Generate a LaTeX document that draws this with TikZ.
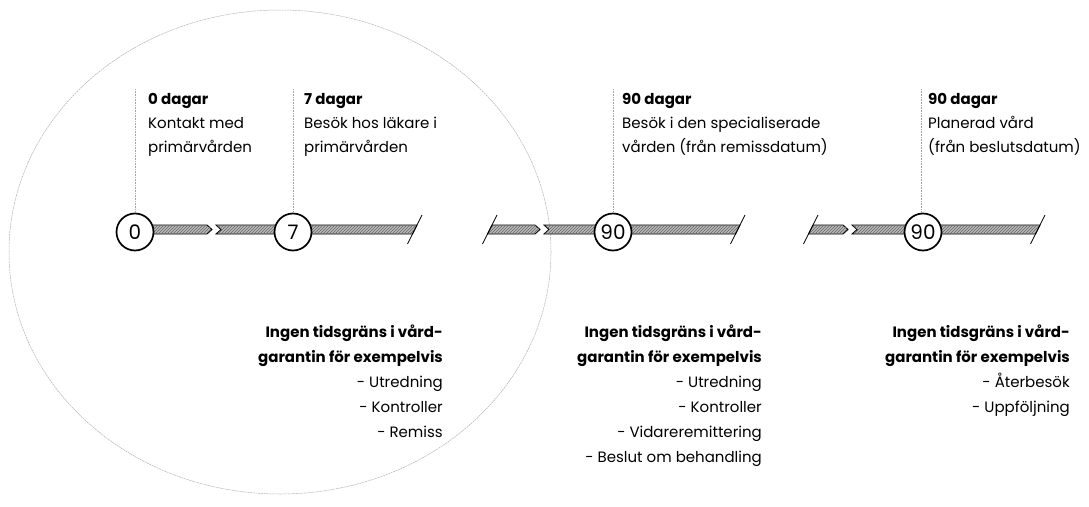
\documentclass[tikz,border=0pt]{standalone}
\usepackage{fontspec}
\setmainfont{Poppins}
\usetikzlibrary{patterns}
\newcommand\chevbar[2]{\draw[bar] (#1,225) -- ({#2-5},225) -- (#2,229.5) -- ({#2-5},234) -- (#1,234) -- cycle;}
\newcommand\notchbar[2]{\draw[bar] (#1,225) -- (#2,225) -- (#2,234) -- (#1,234) -- ({#1+5},229.5) -- cycle;}
\newcommand\slantend[2]{\draw[bar] (#1,225) -- (#2,225) -- ({#2-4.5},234) -- (#1,234) -- cycle;
  \draw[line width=0.8pt] ({#2+5},215) -- ({#2-9.5},244);}
\newcommand\slantstart[2]{\draw[bar] (#1,225) -- ({#2-5},225) -- (#2,229.5) -- ({#2-5},234) -- ({#1-4.5},234) -- cycle;
  \draw[line width=0.8pt] ({#1+5},215) -- ({#1-9.5},244);}
\tikzset{
  daynode/.style={circle, draw, line width=1.7pt, fill=white, minimum size=37pt, inner sep=0pt, font=\fontsize{20}{20}\selectfont},
  bar/.style={draw=black, line width=0.9pt, fill=gray!55, postaction={pattern=north east lines, pattern color=black!60}},
  tick/.style={gray!70, line width=0.6pt, dash pattern=on 1pt off 0.6pt},
  toptext/.style={anchor=north west, align=left, inner sep=0pt, font=\fontsize{15}{24}\selectfont},
  bottext/.style={anchor=north east, align=right, inner sep=0pt, font=\fontsize{15}{25}\selectfont},
  ring/.style={draw=gray!60, line width=0.5pt, dash pattern=on 2pt off 0.7pt},
}
\begin{document}
\begin{tikzpicture}[x=1pt, y=-1pt]
\useasboundingbox (0,0) rectangle (1089,506);
\draw[ring] (280,252) ellipse [x radius=271pt, y radius=242pt];
% bars
\chevbar{135}{212}
\notchbar{216}{293}
\slantend{293}{417}
\slantstart{492}{540}
\notchbar{544}{613}
\slantend{613}{740}
\slantstart{813}{848}
\notchbar{852}{923}
\slantend{923}{1040}
% day circles
\node[daynode] (c0) at (135,232) {0};
\node[daynode] (c7) at (293,232) {7};
\node[daynode] (c90a) at (613,232) {90};
\node[daynode] (c90b) at (923,232) {90};
% ticks
\coordinate (t0) at (135,89);
\coordinate (t7) at (293,89);
\coordinate (t90a) at (613,89);
\coordinate (t90b) at (921,89);
\draw[tick] (t0) -- (t0 |- c0.north);
\draw[tick] (t7) -- (t7 |- c7.north);
\draw[tick] (t90a) -- (t90a |- c90a.north);
\draw[tick] (t90b) -- (t90b |- c90b.north);
% top texts
\node[toptext] (d0) at (148,93) {\textbf{0 dagar}\\Kontakt med\\primärvården};
\node[toptext] (d7) at (304,93) {\textbf{7 dagar}\\Besök hos läkare i\\primärvården};
\node[toptext] (d90a) at (622,93) {\textbf{90 dagar}\\Besök i den specialiserade\\vården (från remissdatum)};
\node[toptext] (d90b) at (928,93) {\textbf{90 dagar}\\Planerad vård\\(från beslutsdatum)};
% bottom texts
\node[bottext] (n1) at (443,325) {\textbf{Ingen tidsgräns i vård-}\\\textbf{garantin för exempelvis}\\- Utredning\\- Kontroller\\- Remiss};
\node[bottext] (n2) at (762,325) {\textbf{Ingen tidsgräns i vård-}\\\textbf{garantin för exempelvis}\\- Utredning\\- Kontroller\\- Vidareremittering\\- Beslut om behandling};
\node[bottext] (n3) at (1070,325) {\textbf{Ingen tidsgräns i vård-}\\\textbf{garantin för exempelvis}\\- Återbesök\\- Uppföljning};
\end{tikzpicture}
\end{document}
